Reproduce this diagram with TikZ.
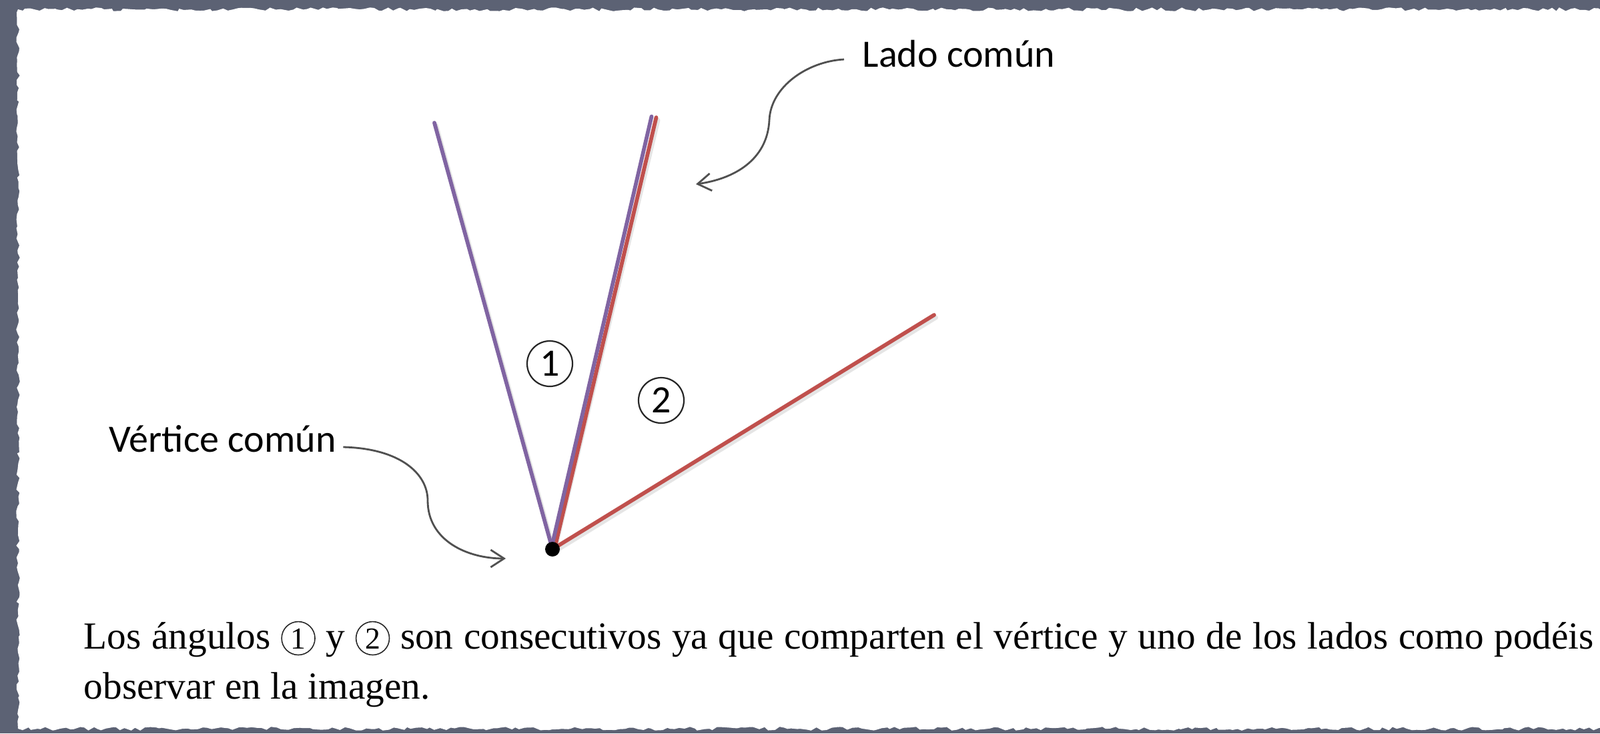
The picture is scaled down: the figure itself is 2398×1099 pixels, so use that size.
\documentclass[tikz,border=0pt]{standalone}
\usepackage{fontspec}
\setmainfont{Liberation Serif}
\newfontfamily\calib{Carlito}
\usetikzlibrary{arrows.meta,decorations.pathmorphing}
\definecolor{slate}{RGB}{92,98,116}
\definecolor{opurple}{RGB}{128,100,162}
\definecolor{ored}{RGB}{192,80,77}
\definecolor{arrowgray}{RGB}{80,80,80}
\newsavebox\cone
\newsavebox\ctwo
\newcommand\mkcircnum[2]{\sbox#1{\begin{pgfpicture}\pgfsetbaseline{0pt}\pgfsetlinewidth{0.45pt}\pgfsetstrokecolor{black!85}%
  \pgfpathcircle{\pgfpoint{0pt}{4.4pt}}{7.1pt}\pgfusepath{stroke}%
  \pgftext[base]{\fontsize{13}{13}\selectfont #2}\end{pgfpicture}}}
\begin{document}
\mkcircnum\cone{1}\mkcircnum\ctwo{2}%
\begin{tikzpicture}[x=0.01cm,y=-0.01cm,
  lbl/.style={font=\calib\fontsize{16.5}{18}\selectfont, text=black, inner ysep=0pt, anchor=base west},
  ray/.style={line width=0.058cm, line cap=round},
  shade/.style={line width=0.06cm, black!10, line cap=round},
  callout/.style={arrowgray, line width=0.028cm, -{Straight Barb[length=0.2cm,width=0.26cm,line width=0.028cm]}},
  num/.style={circle, draw=black!85, line width=0.022cm, minimum size=0.68cm, inner sep=0pt, font=\calib\fontsize{16.5}{18}\selectfont},
  body/.style={font=\fontsize{16.3}{18}\selectfont, anchor=base west, inner sep=0pt}
]
\useasboundingbox (0,0) rectangle (2398,1099);
\clip (0,0) rectangle (2398,1099);
% background and paper
\fill[slate] (0,0) rectangle (2398,1099);
\fill[white, decorate, decoration={random steps, segment length=2pt, amplitude=0.8pt}]
  (27,14) rectangle (2430,1092);

% geometry
\coordinate (V) at (828,823);
\coordinate (Lt) at (651,184);
\coordinate (Pt) at (976.5,174.5);
\coordinate (Rt) at (983.5,176);
\coordinate (Re) at (1400,472);
\coordinate (vtip) at (758,837);
\coordinate (ltip) at (1043,276);

% soft shadows
\draw[shade] ([shift={(3,4)}]V) -- ([shift={(3,4)}]Lt);
\draw[shade] ([shift={(3,4)}]V) -- ([shift={(3,4)}]Rt);
\draw[shade] ([shift={(3,4)}]V) -- ([shift={(3,4)}]Re);

% rays
\draw[ray, opurple] (V) -- (Lt);
\draw[ray, ored] ([shift={(3,0)}]V) -- (Rt);
\draw[ray, opurple] ([shift={(-2,0)}]V) -- (Pt);
\draw[ray, ored] (V) -- (Re);
\node[circle, fill=black, minimum size=0.22cm, inner sep=0pt] (vtx) at (V) {};

% angle labels
\node[num] (n1) at (824,545) {1};
\node[num] (n2) at (991,600) {2};

% callouts
\node[lbl, inner xsep=0.1cm] (vlab) at (153,677) {Vértice común};
\node[lbl, inner xsep=0.27cm] (llab) at (1265,100) {Lado común};
\draw[callout] ([yshift=0.07cm]vlab.base east) .. controls (600,672) and (641,710) .. (641,750)
  .. controls (641,810) and (700,837) .. (vtip);
\draw[callout] ([yshift=0.11cm]llab.base west) .. controls (1210,92) and (1155,130) .. (1153,180)
  .. controls (1150,240) and (1100,268) .. (ltip);

% caption
\node[body] (t1) at (125,972) {\makebox[22.62cm][s]{Los ángulos \usebox\cone{} y \usebox\ctwo{} son consecutivos ya que comparten el vértice y uno de los lados como podéis}};
\node[body] (t2) at (125,1047) {observar en la imagen.};
\end{tikzpicture}
\end{document}
